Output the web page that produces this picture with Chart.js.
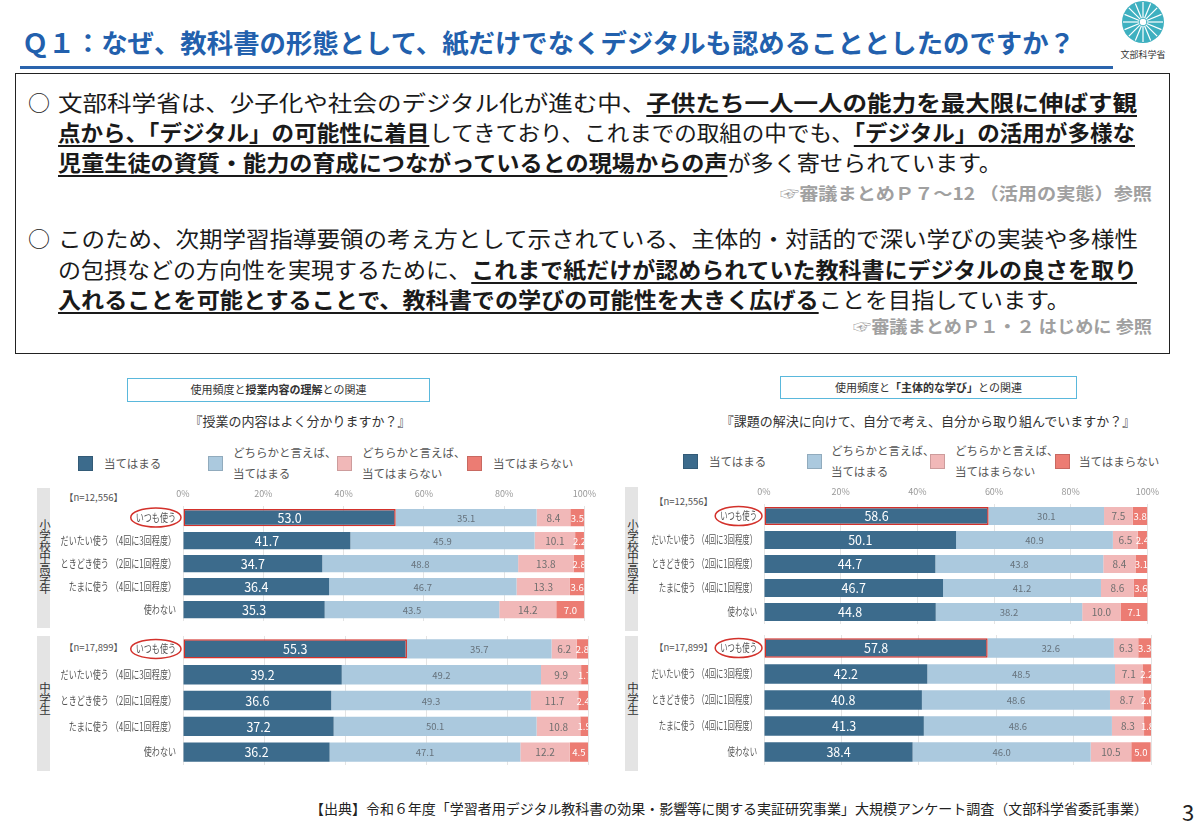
<!DOCTYPE html>
<html lang="ja">
<head>
<meta charset="utf-8">
<script src="https://cdn.jsdelivr.net/npm/chart.js@4.4.1/dist/chart.umd.min.js"></script>
<style>
  html, body { margin: 0; padding: 0; background: #fff; }
  body { width: 1200px; height: 826px; position: relative; overflow: hidden;
         font-family: "Noto Sans CJK JP", "Noto Sans", sans-serif; color: #222; }
  .abs { position: absolute; white-space: nowrap; }
  .fit { display: inline-block; transform-origin: left center; }
  .line { font-size: 22px; line-height: 30px; color: #1a1a1a; }
  .b { font-weight: 700; text-decoration: underline; text-decoration-thickness: 2px; text-underline-offset: 4px; }
  .ref { font-size: 17px; line-height: 22px; font-weight: 700; color: #a0a0a0; }
  .strip { position: absolute; background: #e4e4e4; }
  .vtext { position: absolute; writing-mode: vertical-rl; text-orientation: upright;
           font-size: 11.5px; letter-spacing: -0.8px; color: #333; }
  .nlab { position: absolute; font-size: 9.5px; color: #555; white-space: nowrap; line-height: 12px; }
  .hbox { position: absolute; border: 1.5px solid #5ab8dc; background: #fff; text-align: center;
          font-size: 11px; color: #333; box-sizing: border-box; }
  .q { position: absolute; font-size: 13px; color: #333; white-space: nowrap; transform: translateX(-50%); }
  .leg { position: absolute; font-size: 11.5px; color: #555; line-height: 21px; white-space: nowrap; }
  .sw { position: absolute; width: 15px; height: 15px; box-sizing: border-box; border: 1px solid rgba(0,0,0,0.15); }
  canvas { position: absolute; }
</style>
</head>
<body>

<!-- タイトル -->
<div class="abs" style="left:22px; top:24px; font-size:26px; font-weight:700; color:#2260ad; line-height:36px;">
  <span class="fit" data-w="1053">Ｑ１：なぜ、教科書の形態として、紙だけでなくデジタルも認めることとしたのですか？</span>
</div>
<div class="abs" style="left:20px; top:66px; width:1093px; height:3px; background:#2a64ad;"></div>

<!-- ロゴ -->
<svg class="abs" style="left:1118px; top:0px;" width="52" height="62" viewBox="0 0 52 62">
  <circle cx="25" cy="22" r="21" fill="#3eb0c0"/>
  <g stroke="#fff" stroke-width="1.2" id="spokes"></g>
  <circle cx="25" cy="22" r="3.2" fill="#fff"/>
  <text x="25" y="58" font-size="9" text-anchor="middle" fill="#333" font-family="Noto Sans CJK JP">文部科学省</text>
</svg>

<!-- 本文ボックス -->
<div class="abs" style="left:15px; top:73px; width:1153px; height:279px; border:1.5px solid #222;"></div>

<div class="abs line" style="left:28px; top:86px;">○</div>
<div class="abs line" style="left:58px; top:86px;"><span class="fit" data-w="1079">文部科学省は、少子化や社会のデジタル化が進む中、<span class="b">子供たち一人一人の能力を最大限に伸ばす観</span></span></div>
<div class="abs line" style="left:58px; top:116px;"><span class="fit" data-w="1077"><span class="b">点から、「デジタル」の可能性に着目</span>してきており、これまでの取組の中でも、<span class="b">「デジタル」の活用が多様な</span></span></div>
<div class="abs line" style="left:58px; top:146px;"><span class="fit" data-w="944"><span class="b">児童生徒の資質・能力の育成につながっているとの現場からの声</span>が多く寄せられています。</span></div>
<div class="abs ref" style="left:780px; top:182px;"><span class="fit" data-w="372">☞審議まとめＰ７～12 （活用の実態）参照</span></div>

<div class="abs line" style="left:28px; top:222px;">○</div>
<div class="abs line" style="left:58px; top:222px;"><span class="fit" data-w="1080">このため、次期学習指導要領の考え方として示されている、主体的・対話的で深い学びの実装や多様性</span></div>
<div class="abs line" style="left:58px; top:253px;"><span class="fit" data-w="1079">の包摂などの方向性を実現するために、<span class="b">これまで紙だけが認められていた教科書にデジタルの良さを取り</span></span></div>
<div class="abs line" style="left:58px; top:283px;"><span class="fit" data-w="1012"><span class="b">入れることを可能とすることで、教科書での学びの可能性を大きく広げる</span>ことを目指しています。</span></div>
<div class="abs ref" style="left:853px; top:315px;"><span class="fit" data-w="299">☞審議まとめＰ１・２ はじめに 参照</span></div>

<!-- 左パネル -->
<div class="hbox" style="left:127px; top:378px; width:303px; height:24px; line-height:21px;">使用頻度と<b>授業内容の理解</b>との関連</div>
<div class="q" style="left:300px; top:411px;">『授業の内容はよく分かりますか？』</div>
<div id="legendL"></div>
<div class="strip" style="left:37px; top:488px; width:13px; height:140px;"></div>
<div class="strip" style="left:37px; top:636px; width:13px; height:135px;"></div>
<div class="vtext" style="left:37px; top:519px;">小学校中高学年</div>
<div class="vtext" style="left:37px; top:682px;">中学生</div>
<div class="nlab" style="left:64px; top:491px;">【n=12,556】</div>
<div class="nlab" style="left:64px; top:641px;">【n=17,899】</div>
<canvas id="c1" width="553" height="135" style="left:50px; top:486px;"></canvas>
<canvas id="c2" width="553" height="129" style="left:50px; top:636px;"></canvas>

<!-- 右パネル -->
<div class="hbox" style="left:780px; top:376px; width:297px; height:23px; line-height:20px;">使用頻度と<b>「主体的な学び」</b>との関連</div>
<div class="q" style="left:928px; top:411px;">『課題の解決に向けて、自分で考え、自分から取り組んでいますか？』</div>
<div id="legendR"></div>
<div class="strip" style="left:625px; top:487px; width:13px; height:144px;"></div>
<div class="strip" style="left:625px; top:636px; width:13px; height:135px;"></div>
<div class="vtext" style="left:625px; top:519px;">小学校中高学年</div>
<div class="vtext" style="left:625px; top:682px;">中学生</div>
<div class="nlab" style="left:654px; top:495px;">【n=12,556】</div>
<div class="nlab" style="left:654px; top:641px;">【n=17,899】</div>
<canvas id="c3" width="528" height="140" style="left:638px; top:484px;"></canvas>
<canvas id="c4" width="528" height="130" style="left:638px; top:635px;"></canvas>

<!-- 出典 -->
<div class="abs" style="left:310px; top:798px; font-size:14px; line-height:20px; color:#222;"><span class="fit" data-w="838">【出典】令和６年度「学習者用デジタル教科書の効果・影響等に関する実証研究事業」大規模アンケート調査（文部科学省委託事業）</span></div>
<div class="abs" style="left:1182px; top:797px; font-size:22px; line-height:28px; color:#222;">3</div>

<script>
// 行ラベル・凡例・目盛
const rowLabels = ['いつも使う', 'だいたい使う （4回に3回程度）', 'ときどき使う （2回に1回程度）', 'たまに使う （4回に1回程度）', '使わない'];
const seriesNames = ['当てはまる', 'どちらかと言えば、\n当てはまる', 'どちらかと言えば、\n当てはまらない', '当てはまらない'];
const xTicks = [0, 20, 40, 60, 80, 100];

// 授業内容の理解（小学校中高学年 / 中学生）: [当てはまる, どちらかと言えば当てはまる, どちらかと言えば当てはまらない, 当てはまらない]
const rikaiSho = [
  [53.0, 41.7, 34.7, 36.4, 35.3],
  [35.1, 45.9, 48.8, 46.7, 43.5],
  [8.4, 10.1, 13.8, 13.3, 14.2],
  [3.5, 2.2, 2.8, 3.6, 7.0],
];
const rikaiChu = [
  [55.3, 39.2, 36.6, 37.2, 36.2],
  [35.7, 49.2, 49.3, 50.1, 47.1],
  [6.2, 9.9, 11.7, 10.8, 12.2],
  [2.8, 1.7, 2.4, 1.9, 4.5],
];
// 主体的な学び
const shutaiSho = [
  [58.6, 50.1, 44.7, 46.7, 44.8],
  [30.1, 40.9, 43.8, 41.2, 38.2],
  [7.5, 6.5, 8.4, 8.6, 10.0],
  [3.8, 2.4, 3.1, 3.6, 7.1],
];
const shutaiChu = [
  [57.8, 42.2, 40.8, 41.3, 38.4],
  [32.6, 48.5, 48.6, 48.6, 46.0],
  [6.3, 7.1, 8.7, 8.3, 10.5],
  [3.3, 2.2, 2.0, 1.8, 5.0],
];

const barColors = ['#3c6b8c', '#abc9de', '#f1b8b8', '#ec7c73'];
const valueColors = ['#ffffff', '#66727c', '#6e6e6e', '#ffffff'];
const valueSizes = [12.5, 9.5, 10, 9.5];
const FONT = '"Noto Sans CJK JP", "Noto Sans", sans-serif';

// ロゴの放射線
(function () {
  const g = document.getElementById('spokes');
  for (let i = 0; i < 16; i++) {
    const a = i * Math.PI / 8;
    const l = document.createElementNS('http://www.w3.org/2000/svg', 'line');
    l.setAttribute('x1', 25 + Math.cos(a) * 4);
    l.setAttribute('y1', 22 + Math.sin(a) * 4);
    l.setAttribute('x2', 25 + Math.cos(a) * 20);
    l.setAttribute('y2', 22 + Math.sin(a) * 20);
    g.appendChild(l);
  }
})();

// 凡例
function buildLegend(id, swX, txX, top) {
  const box = document.getElementById(id);
  seriesNames.forEach((name, i) => {
    const sw = document.createElement('div');
    sw.className = 'sw';
    sw.style.left = swX[i] + 'px';
    sw.style.top = top + 'px';
    sw.style.background = barColors[i];
    box.appendChild(sw);
    const t = document.createElement('div');
    t.className = 'leg';
    t.style.left = txX[i] + 'px';
    const lines = name.split('\n');
    t.style.top = (top + 7 - lines.length * 10.5) + 'px';
    t.innerHTML = lines.join('<br>');
    box.appendChild(t);
  });
}
buildLegend('legendL', [78, 208, 337, 467], [104, 233, 362, 493], 456);
buildLegend('legendR', [683, 807, 930, 1055], [709, 831, 955, 1079], 454);

// 数値ラベル、行ラベル（横に詰めて描く）、「いつも使う」の丸囲み
const valueLabels = {
  id: 'valueLabels',
  afterDatasetsDraw(chart) {
    const ctx = chart.ctx;
    const a = chart.chartArea;
    ctx.save();
    ctx.beginPath();
    ctx.rect(a.left, a.top, a.right - a.left, a.bottom - a.top);
    ctx.clip();
    ctx.textAlign = 'center';
    ctx.textBaseline = 'middle';
    chart.data.datasets.forEach((ds, di) => {
      const meta = chart.getDatasetMeta(di);
      meta.data.forEach((bar, i) => {
        ctx.fillStyle = valueColors[di];
        ctx.font = valueSizes[di] + 'px ' + FONT;
        ctx.fillText(ds.data[i].toFixed(1), (bar.x + bar.base) / 2, bar.y + 0.5);
      });
    });
    ctx.restore();
  },
  afterDraw(chart) {
    const ctx = chart.ctx;
    const sx = chart.options.labelSqueeze;
    const right = chart.chartArea.left - 7;
    ctx.save();
    ctx.font = '11.5px ' + FONT;
    ctx.fillStyle = '#555';
    ctx.textAlign = 'right';
    ctx.textBaseline = 'middle';
    chart.data.labels.forEach((lab, i) => {
      const y = chart.scales.y.getPixelForValue(i);
      ctx.save();
      ctx.translate(right, y);
      ctx.scale(sx, 1);
      ctx.fillText(lab, 0, 0);
      ctx.restore();
    });
    const w = ctx.measureText(chart.data.labels[0]).width * sx;
    const y0 = chart.scales.y.getPixelForValue(0);
    ctx.strokeStyle = '#d3312b';
    ctx.lineWidth = 1.5;
    ctx.beginPath();
    ctx.ellipse(right - w / 2, y0, w / 2 + 5, 9.5, 0, 0, Math.PI * 2);
    ctx.stroke();
    ctx.restore();
  }
};

function makeChart(id, series, yWidth, showTicks, squeeze) {
  const ctx = document.getElementById(id).getContext('2d');
  return new Chart(ctx, {
    type: 'bar',
    data: {
      labels: rowLabels,
      datasets: series.map((vals, si) => ({
        label: seriesNames[si],
        data: vals,
        backgroundColor: barColors[si],
        borderColor: (c) => (si === 0 && c.dataIndex === 0) ? '#d3312b' : 'rgba(0,0,0,0)',
        borderWidth: (c) => (si === 0 && c.dataIndex === 0) ? 1.5 : 0,
        borderSkipped: false,
        barPercentage: 0.75,
        categoryPercentage: 1.0,
      })),
    },
    options: {
      indexAxis: 'y',
      responsive: false,
      animation: false,
      labelSqueeze: squeeze,
      layout: { padding: { left: 0, right: 15, top: 0, bottom: 0 } },
      plugins: { legend: { display: false }, tooltip: { enabled: false } },
      scales: {
        x: {
          stacked: true,
          position: 'top',
          min: 0,
          max: 100,
          afterBuildTicks: (s) => { s.ticks = xTicks.map(v => ({ value: v })); },
          afterFit: (s) => { s.height = showTicks ? 20 : 0; },
          ticks: {
            display: showTicks,
            color: '#999',
            font: { size: 9, family: FONT },
            padding: 7,
            callback: (v) => v + '%',
          },
          grid: { color: '#e4e4e4', drawTicks: false },
          border: { display: false },
        },
        y: {
          stacked: true,
          afterFit: (s) => { s.width = yWidth; },
          ticks: { display: false },
          grid: { display: false },
          border: { display: false },
        },
      },
    },
    plugins: [valueLabels],
  });
}

makeChart('c1', rikaiSho, 133, true, 0.7);
makeChart('c2', rikaiChu, 133, false, 0.7);
makeChart('c3', shutaiSho, 126, true, 0.64);
makeChart('c4', shutaiChu, 126, false, 0.64);

// 行幅合わせ
function fitAll() {
  document.querySelectorAll('.fit').forEach(el => {
    el.style.transform = 'none';
    const nat = el.getBoundingClientRect().width;
    const w = +el.dataset.w;
    if (nat > 0) el.style.transform = 'scaleX(' + (w / nat) + ')';
  });
}
fitAll();
if (document.fonts && document.fonts.ready) document.fonts.ready.then(fitAll);
</script>
</body>
</html>
